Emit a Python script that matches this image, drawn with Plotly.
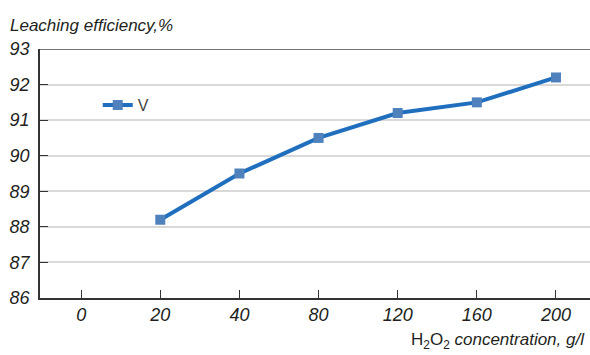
import plotly.graph_objects as go

categories = ["0", "20", "40", "80", "120", "160", "200"]
x_values = ["20", "40", "80", "120", "160", "200"]
y_values = [88.2, 89.5, 90.5, 91.2, 91.5, 92.2]
series_name = "V"
y_ticks = [86, 87, 88, 89, 90, 91, 92, 93]

font_fam = "Liberation Sans, Arial, sans-serif"
txt = "#231f20"

fig = go.Figure()
fig.add_trace(go.Scatter(
    x=x_values, y=y_values, name=series_name, mode="lines+markers",
    line=dict(color="#1f6fbe", width=4),
    marker=dict(symbol="square", size=10, color="#4f81bd"),
))

fig.update_layout(
    width=590, height=355,
    margin=dict(l=40, r=0, t=49, b=57),
    paper_bgcolor="white", plot_bgcolor="white",
    font=dict(family=font_fam, color=txt),
    showlegend=True,
    legend=dict(x=0.105, y=0.775, xanchor="left", yanchor="middle",
                bgcolor="rgba(0,0,0,0)", font=dict(size=16, color="#444"),
                itemwidth=30),
    xaxis=dict(
        type="category", categoryorder="array", categoryarray=categories,
        range=[-0.52, 6.43], showgrid=False,
        showline=True, linecolor="#333", linewidth=1.5,
        ticks="inside", ticklen=8, tickwidth=1.2, tickcolor="#333",
        tickfont=dict(size=18, family=font_fam, style="italic", color=txt),
        zeroline=False,
    ),
    yaxis=dict(
        range=[86, 93], tickvals=y_ticks,
        showgrid=True, gridcolor="#d9d9d9", gridwidth=1.5,
        showline=True, linecolor="#333", linewidth=1.5,
        ticks="inside", ticklen=8, tickwidth=1.2, tickcolor="#333",
        tickfont=dict(size=18, family=font_fam, style="italic", color=txt),
        ticklabelstandoff=5,
        zeroline=False,
    ),
    shapes=[dict(type="line", xref="paper", yref="y", x0=0, x1=1, y0=93, y1=93,
                 line=dict(color="#444", width=1.5))],
    annotations=[
        dict(text="<i>Leaching efficiency,%</i>", xref="paper", yref="paper",
             x=-0.058, y=1.05, xanchor="left", yanchor="bottom", showarrow=False,
             font=dict(size=17, family=font_fam, color=txt)),
        dict(text="H<sub>2</sub>O<sub>2</sub> <i>concentration, g/l</i>", xref="paper", yref="paper",
             x=0.995, y=-0.122, xanchor="right", yanchor="top", showarrow=False,
             font=dict(size=17, family=font_fam, color=txt)),
    ],
)

fig.write_html("out.html")
